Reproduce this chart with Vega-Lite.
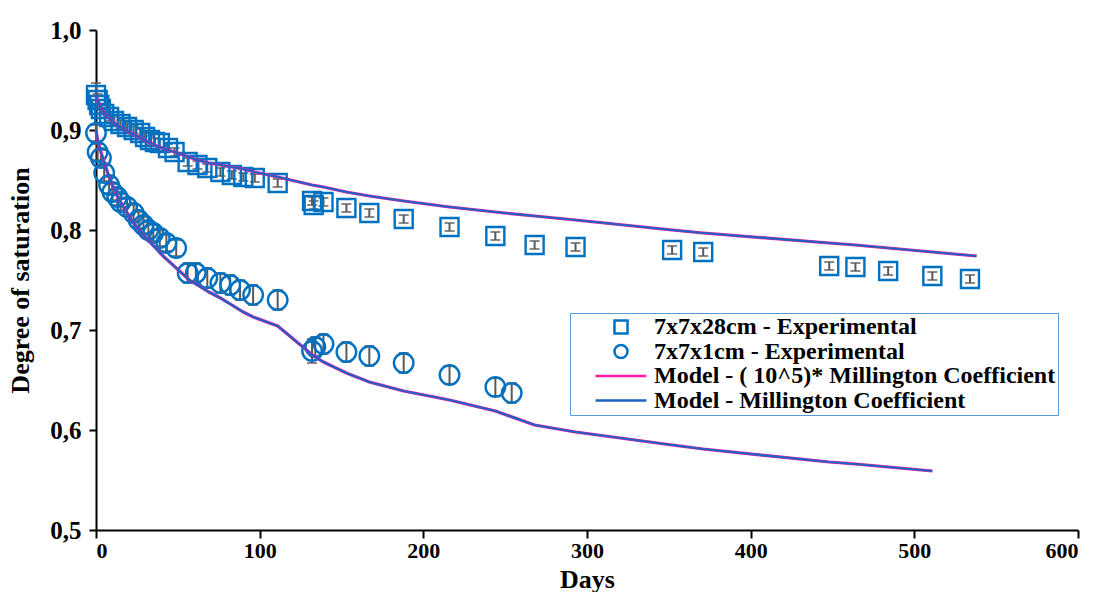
{
  "$schema": "https://vega.github.io/schema/vega-lite/v6.json",
  "width": 982,
  "height": 500,
  "autosize": {"type": "none"},
  "padding": {"left": 96, "top": 30, "right": 21, "bottom": 62},
  "background": "white",
  "config": {
    "view": {"stroke": null},
    "font": "Liberation Serif",
    "axis": {"grid": false, "domainColor": "black", "domainWidth": 2, "tickColor": "black", "tickWidth": 2, "labelColor": "black", "titleColor": "black", "labelFont": "Liberation Serif", "titleFont": "Liberation Serif", "labelFontWeight": "bold", "titleFontWeight": "bold", "labelFontSize": 22, "titleFontSize": 26}
  },
  "datasets": {
    "exp": [
      {"series": "7x7x28cm - Experimental", "day": 0, "value": 0.935, "lo": 0.923, "hi": 0.947},
      {"series": "7x7x28cm - Experimental", "day": 1, "value": 0.930, "lo": 0.924, "hi": 0.936},
      {"series": "7x7x28cm - Experimental", "day": 2, "value": 0.925, "lo": 0.920, "hi": 0.930},
      {"series": "7x7x28cm - Experimental", "day": 3, "value": 0.921, "lo": 0.917, "hi": 0.925},
      {"series": "7x7x28cm - Experimental", "day": 5, "value": 0.916, "lo": 0.912, "hi": 0.920},
      {"series": "7x7x28cm - Experimental", "day": 8, "value": 0.913, "lo": 0.909, "hi": 0.917},
      {"series": "7x7x28cm - Experimental", "day": 11, "value": 0.909, "lo": 0.905, "hi": 0.913},
      {"series": "7x7x28cm - Experimental", "day": 15, "value": 0.906, "lo": 0.902, "hi": 0.910},
      {"series": "7x7x28cm - Experimental", "day": 19, "value": 0.903, "lo": 0.899, "hi": 0.907},
      {"series": "7x7x28cm - Experimental", "day": 23, "value": 0.900, "lo": 0.896, "hi": 0.904},
      {"series": "7x7x28cm - Experimental", "day": 27, "value": 0.897, "lo": 0.893, "hi": 0.901},
      {"series": "7x7x28cm - Experimental", "day": 30, "value": 0.893, "lo": 0.889, "hi": 0.897},
      {"series": "7x7x28cm - Experimental", "day": 33, "value": 0.890, "lo": 0.886, "hi": 0.894},
      {"series": "7x7x28cm - Experimental", "day": 36, "value": 0.888, "lo": 0.884, "hi": 0.892},
      {"series": "7x7x28cm - Experimental", "day": 39, "value": 0.887, "lo": 0.883, "hi": 0.891},
      {"series": "7x7x28cm - Experimental", "day": 44, "value": 0.882, "lo": 0.878, "hi": 0.886},
      {"series": "7x7x28cm - Experimental", "day": 48, "value": 0.878, "lo": 0.874, "hi": 0.882},
      {"series": "7x7x28cm - Experimental", "day": 56, "value": 0.868, "lo": 0.864, "hi": 0.872},
      {"series": "7x7x28cm - Experimental", "day": 62, "value": 0.865, "lo": 0.861, "hi": 0.869},
      {"series": "7x7x28cm - Experimental", "day": 68, "value": 0.862, "lo": 0.858, "hi": 0.866},
      {"series": "7x7x28cm - Experimental", "day": 76, "value": 0.858, "lo": 0.854, "hi": 0.862},
      {"series": "7x7x28cm - Experimental", "day": 83, "value": 0.855, "lo": 0.851, "hi": 0.859},
      {"series": "7x7x28cm - Experimental", "day": 90, "value": 0.853, "lo": 0.849, "hi": 0.857},
      {"series": "7x7x28cm - Experimental", "day": 97, "value": 0.852, "lo": 0.848, "hi": 0.856},
      {"series": "7x7x28cm - Experimental", "day": 111, "value": 0.847, "lo": 0.843, "hi": 0.851},
      {"series": "7x7x28cm - Experimental", "day": 132, "value": 0.829, "lo": 0.825, "hi": 0.833},
      {"series": "7x7x28cm - Experimental", "day": 133, "value": 0.825, "lo": 0.821, "hi": 0.829},
      {"series": "7x7x28cm - Experimental", "day": 139, "value": 0.828, "lo": 0.824, "hi": 0.832},
      {"series": "7x7x28cm - Experimental", "day": 153, "value": 0.822, "lo": 0.818, "hi": 0.826},
      {"series": "7x7x28cm - Experimental", "day": 167, "value": 0.817, "lo": 0.813, "hi": 0.821},
      {"series": "7x7x28cm - Experimental", "day": 188, "value": 0.811, "lo": 0.807, "hi": 0.815},
      {"series": "7x7x28cm - Experimental", "day": 216, "value": 0.803, "lo": 0.799, "hi": 0.807},
      {"series": "7x7x28cm - Experimental", "day": 244, "value": 0.794, "lo": 0.790, "hi": 0.798},
      {"series": "7x7x28cm - Experimental", "day": 268, "value": 0.785, "lo": 0.781, "hi": 0.789},
      {"series": "7x7x28cm - Experimental", "day": 293, "value": 0.783, "lo": 0.779, "hi": 0.787},
      {"series": "7x7x28cm - Experimental", "day": 352, "value": 0.780, "lo": 0.776, "hi": 0.784},
      {"series": "7x7x28cm - Experimental", "day": 371, "value": 0.778, "lo": 0.774, "hi": 0.782},
      {"series": "7x7x28cm - Experimental", "day": 448, "value": 0.764, "lo": 0.760, "hi": 0.768},
      {"series": "7x7x28cm - Experimental", "day": 464, "value": 0.763, "lo": 0.759, "hi": 0.767},
      {"series": "7x7x28cm - Experimental", "day": 484, "value": 0.759, "lo": 0.755, "hi": 0.763},
      {"series": "7x7x28cm - Experimental", "day": 511, "value": 0.754, "lo": 0.750, "hi": 0.758},
      {"series": "7x7x28cm - Experimental", "day": 534, "value": 0.751, "lo": 0.747, "hi": 0.755},
      {"series": "7x7x1cm - Experimental", "day": 0, "value": 0.897, "lo": 0.889, "hi": 0.905},
      {"series": "7x7x1cm - Experimental", "day": 1, "value": 0.878, "lo": 0.870, "hi": 0.886},
      {"series": "7x7x1cm - Experimental", "day": 3, "value": 0.872, "lo": 0.864, "hi": 0.880},
      {"series": "7x7x1cm - Experimental", "day": 5, "value": 0.857, "lo": 0.849, "hi": 0.865},
      {"series": "7x7x1cm - Experimental", "day": 8, "value": 0.845, "lo": 0.837, "hi": 0.853},
      {"series": "7x7x1cm - Experimental", "day": 10, "value": 0.838, "lo": 0.830, "hi": 0.846},
      {"series": "7x7x1cm - Experimental", "day": 13, "value": 0.833, "lo": 0.825, "hi": 0.841},
      {"series": "7x7x1cm - Experimental", "day": 15, "value": 0.828, "lo": 0.820, "hi": 0.836},
      {"series": "7x7x1cm - Experimental", "day": 19, "value": 0.823, "lo": 0.815, "hi": 0.831},
      {"series": "7x7x1cm - Experimental", "day": 23, "value": 0.817, "lo": 0.809, "hi": 0.825},
      {"series": "7x7x1cm - Experimental", "day": 26, "value": 0.810, "lo": 0.802, "hi": 0.818},
      {"series": "7x7x1cm - Experimental", "day": 29, "value": 0.805, "lo": 0.797, "hi": 0.813},
      {"series": "7x7x1cm - Experimental", "day": 32, "value": 0.800, "lo": 0.792, "hi": 0.808},
      {"series": "7x7x1cm - Experimental", "day": 35, "value": 0.797, "lo": 0.789, "hi": 0.805},
      {"series": "7x7x1cm - Experimental", "day": 39, "value": 0.792, "lo": 0.784, "hi": 0.800},
      {"series": "7x7x1cm - Experimental", "day": 43, "value": 0.787, "lo": 0.779, "hi": 0.795},
      {"series": "7x7x1cm - Experimental", "day": 49, "value": 0.782, "lo": 0.774, "hi": 0.790},
      {"series": "7x7x1cm - Experimental", "day": 56, "value": 0.757, "lo": 0.747, "hi": 0.767},
      {"series": "7x7x1cm - Experimental", "day": 61, "value": 0.757, "lo": 0.747, "hi": 0.767},
      {"series": "7x7x1cm - Experimental", "day": 68, "value": 0.752, "lo": 0.742, "hi": 0.762},
      {"series": "7x7x1cm - Experimental", "day": 76, "value": 0.747, "lo": 0.737, "hi": 0.757},
      {"series": "7x7x1cm - Experimental", "day": 82, "value": 0.745, "lo": 0.735, "hi": 0.755},
      {"series": "7x7x1cm - Experimental", "day": 88, "value": 0.740, "lo": 0.730, "hi": 0.750},
      {"series": "7x7x1cm - Experimental", "day": 96, "value": 0.735, "lo": 0.725, "hi": 0.745},
      {"series": "7x7x1cm - Experimental", "day": 111, "value": 0.730, "lo": 0.720, "hi": 0.740},
      {"series": "7x7x1cm - Experimental", "day": 132, "value": 0.679, "lo": 0.667, "hi": 0.691},
      {"series": "7x7x1cm - Experimental", "day": 134, "value": 0.683, "lo": 0.673, "hi": 0.693},
      {"series": "7x7x1cm - Experimental", "day": 139, "value": 0.686, "lo": 0.676, "hi": 0.696},
      {"series": "7x7x1cm - Experimental", "day": 153, "value": 0.678, "lo": 0.668, "hi": 0.688},
      {"series": "7x7x1cm - Experimental", "day": 167, "value": 0.674, "lo": 0.664, "hi": 0.684},
      {"series": "7x7x1cm - Experimental", "day": 188, "value": 0.667, "lo": 0.657, "hi": 0.677},
      {"series": "7x7x1cm - Experimental", "day": 216, "value": 0.655, "lo": 0.646, "hi": 0.664},
      {"series": "7x7x1cm - Experimental", "day": 244, "value": 0.643, "lo": 0.634, "hi": 0.652},
      {"series": "7x7x1cm - Experimental", "day": 254, "value": 0.637, "lo": 0.627, "hi": 0.647}
    ],
    "model": [
      {"spec": "28cm", "day": 0, "value": 0.935},
      {"spec": "28cm", "day": 1, "value": 0.929},
      {"spec": "28cm", "day": 3, "value": 0.922},
      {"spec": "28cm", "day": 5, "value": 0.917},
      {"spec": "28cm", "day": 8, "value": 0.912},
      {"spec": "28cm", "day": 13, "value": 0.905},
      {"spec": "28cm", "day": 19, "value": 0.899},
      {"spec": "28cm", "day": 25, "value": 0.894},
      {"spec": "28cm", "day": 31, "value": 0.889},
      {"spec": "28cm", "day": 37, "value": 0.884},
      {"spec": "28cm", "day": 44, "value": 0.880},
      {"spec": "28cm", "day": 48, "value": 0.878},
      {"spec": "28cm", "day": 55, "value": 0.874},
      {"spec": "28cm", "day": 62, "value": 0.870},
      {"spec": "28cm", "day": 69, "value": 0.867},
      {"spec": "28cm", "day": 76, "value": 0.865},
      {"spec": "28cm", "day": 83, "value": 0.863},
      {"spec": "28cm", "day": 90, "value": 0.861},
      {"spec": "28cm", "day": 97, "value": 0.858},
      {"spec": "28cm", "day": 111, "value": 0.853},
      {"spec": "28cm", "day": 132, "value": 0.845},
      {"spec": "28cm", "day": 139, "value": 0.843},
      {"spec": "28cm", "day": 153, "value": 0.838},
      {"spec": "28cm", "day": 167, "value": 0.834},
      {"spec": "28cm", "day": 188, "value": 0.829},
      {"spec": "28cm", "day": 216, "value": 0.823},
      {"spec": "28cm", "day": 244, "value": 0.818},
      {"spec": "28cm", "day": 268, "value": 0.814},
      {"spec": "28cm", "day": 293, "value": 0.810},
      {"spec": "28cm", "day": 352, "value": 0.800},
      {"spec": "28cm", "day": 371, "value": 0.797},
      {"spec": "28cm", "day": 448, "value": 0.787},
      {"spec": "28cm", "day": 464, "value": 0.785},
      {"spec": "28cm", "day": 484, "value": 0.782},
      {"spec": "28cm", "day": 511, "value": 0.778},
      {"spec": "28cm", "day": 538, "value": 0.774},
      {"spec": "1cm", "day": 0, "value": 0.900},
      {"spec": "1cm", "day": 1, "value": 0.890},
      {"spec": "1cm", "day": 3, "value": 0.878},
      {"spec": "1cm", "day": 5, "value": 0.868},
      {"spec": "1cm", "day": 8, "value": 0.853},
      {"spec": "1cm", "day": 10, "value": 0.845},
      {"spec": "1cm", "day": 13, "value": 0.834},
      {"spec": "1cm", "day": 16, "value": 0.825},
      {"spec": "1cm", "day": 19, "value": 0.817},
      {"spec": "1cm", "day": 23, "value": 0.807},
      {"spec": "1cm", "day": 28, "value": 0.797},
      {"spec": "1cm", "day": 34, "value": 0.786},
      {"spec": "1cm", "day": 41, "value": 0.774},
      {"spec": "1cm", "day": 49, "value": 0.762},
      {"spec": "1cm", "day": 57, "value": 0.750},
      {"spec": "1cm", "day": 62, "value": 0.745},
      {"spec": "1cm", "day": 69, "value": 0.738},
      {"spec": "1cm", "day": 76, "value": 0.732},
      {"spec": "1cm", "day": 83, "value": 0.725},
      {"spec": "1cm", "day": 90, "value": 0.718},
      {"spec": "1cm", "day": 96, "value": 0.713},
      {"spec": "1cm", "day": 111, "value": 0.704},
      {"spec": "1cm", "day": 133, "value": 0.674},
      {"spec": "1cm", "day": 139, "value": 0.668},
      {"spec": "1cm", "day": 153, "value": 0.657},
      {"spec": "1cm", "day": 167, "value": 0.648},
      {"spec": "1cm", "day": 188, "value": 0.639},
      {"spec": "1cm", "day": 216, "value": 0.630},
      {"spec": "1cm", "day": 244, "value": 0.619},
      {"spec": "1cm", "day": 268, "value": 0.605},
      {"spec": "1cm", "day": 293, "value": 0.598},
      {"spec": "1cm", "day": 352, "value": 0.585},
      {"spec": "1cm", "day": 371, "value": 0.581},
      {"spec": "1cm", "day": 448, "value": 0.568},
      {"spec": "1cm", "day": 464, "value": 0.566},
      {"spec": "1cm", "day": 484, "value": 0.563},
      {"spec": "1cm", "day": 511, "value": 0.559}
    ]
  },
  "layer": [
    {
      "data": {"name": "exp"},
      "mark": {"type": "errorbar", "color": "#595959", "thickness": 2, "ticks": {"size": 10}},
      "encoding": {
        "x": {"field": "day", "type": "quantitative", "scale": {"domain": [0, 600], "nice": false, "zero": false},
          "axis": {"title": "Days", "values": [0, 100, 200, 300, 400, 500, 600], "format": "d", "tickSize": 8, "labelPadding": 2, "titlePadding": 5}},
        "y": {"field": "lo", "type": "quantitative", "scale": {"domain": [0.5, 1.0], "nice": false, "zero": false},
          "axis": {"title": "Degree of saturation", "values": [0.5, 0.6, 0.7, 0.8, 0.9, 1.0], "labelExpr": "replace(format(datum.value, '.1f'), '.', ',')", "labelFontSize": 25, "tickSize": 7, "labelPadding": 8, "titlePadding": 16}},
        "y2": {"field": "hi"}
      }
    },
    {
      "data": {"name": "exp"},
      "transform": [{"filter": {"field": "series", "equal": "7x7x28cm - Experimental"}}],
      "mark": {"type": "point", "filled": false, "opacity": 1, "strokeWidth": 2.4, "size": 324},
      "encoding": {
        "x": {"field": "day", "type": "quantitative", "scale": {"domain": [0, 600], "nice": false, "zero": false}},
        "y": {"field": "value", "type": "quantitative", "scale": {"domain": [0.5, 1.0], "nice": false, "zero": false}},
        "color": {"field": "series", "type": "nominal",
          "scale": {"domain": ["7x7x28cm - Experimental", "7x7x1cm - Experimental", "Model - ( 10^5)* Millington Coefficient", "Model -  Millington Coefficient"], "range": ["#0070C0", "#0070C0", "#FF1AA3", "#1F62C4"]},
          "legend": {
            "orient": "none", "legendX": 474, "legendY": 283, "title": null,
            "padding": 2, "strokeColor": "#5B9BD5", "fillColor": "white",
            "rowPadding": 0.5,
            "symbolSize": 170, "symbolOffset": 37, "labelOffset": 21, "labelLimit": 0, "symbolStrokeWidth": 2.5,
            "labelFont": "Liberation Serif", "labelFontSize": 24, "labelFontWeight": "bold", "labelColor": "black"
          }},
        "shape": {"field": "series", "type": "nominal",
          "scale": {"domain": ["7x7x28cm - Experimental", "7x7x1cm - Experimental", "Model - ( 10^5)* Millington Coefficient", "Model -  Millington Coefficient"], "range": ["square", "circle", "M-3.9,0H3.9", "M-3.9,0H3.9"]}}
      }
    },
    {
      "data": {"name": "exp"},
      "transform": [{"filter": {"field": "series", "equal": "7x7x1cm - Experimental"}}],
      "mark": {"type": "point", "filled": false, "opacity": 1, "strokeWidth": 2.4, "size": 380},
      "encoding": {
        "x": {"field": "day", "type": "quantitative", "scale": {"domain": [0, 600], "nice": false, "zero": false}},
        "y": {"field": "value", "type": "quantitative", "scale": {"domain": [0.5, 1.0], "nice": false, "zero": false}},
        "color": {"field": "series", "type": "nominal"},
        "shape": {"field": "series", "type": "nominal"}
      }
    },
    {
      "data": {"name": "model"},
      "mark": {"type": "line", "strokeWidth": 3.2},
      "encoding": {
        "x": {"field": "day", "type": "quantitative", "scale": {"domain": [0, 600], "nice": false, "zero": false}},
        "y": {"field": "value", "type": "quantitative", "scale": {"domain": [0.5, 1.0], "nice": false, "zero": false}},
        "detail": {"field": "spec", "type": "nominal"},
        "color": {"datum": "Model - ( 10^5)* Millington Coefficient", "type": "nominal"}
      }
    },
    {
      "data": {"name": "model"},
      "mark": {"type": "line", "strokeWidth": 2.2},
      "encoding": {
        "x": {"field": "day", "type": "quantitative", "scale": {"domain": [0, 600], "nice": false, "zero": false}},
        "y": {"field": "value", "type": "quantitative", "scale": {"domain": [0.5, 1.0], "nice": false, "zero": false}},
        "detail": {"field": "spec", "type": "nominal"},
        "color": {"datum": "Model -  Millington Coefficient", "type": "nominal"}
      }
    }
  ]
}
